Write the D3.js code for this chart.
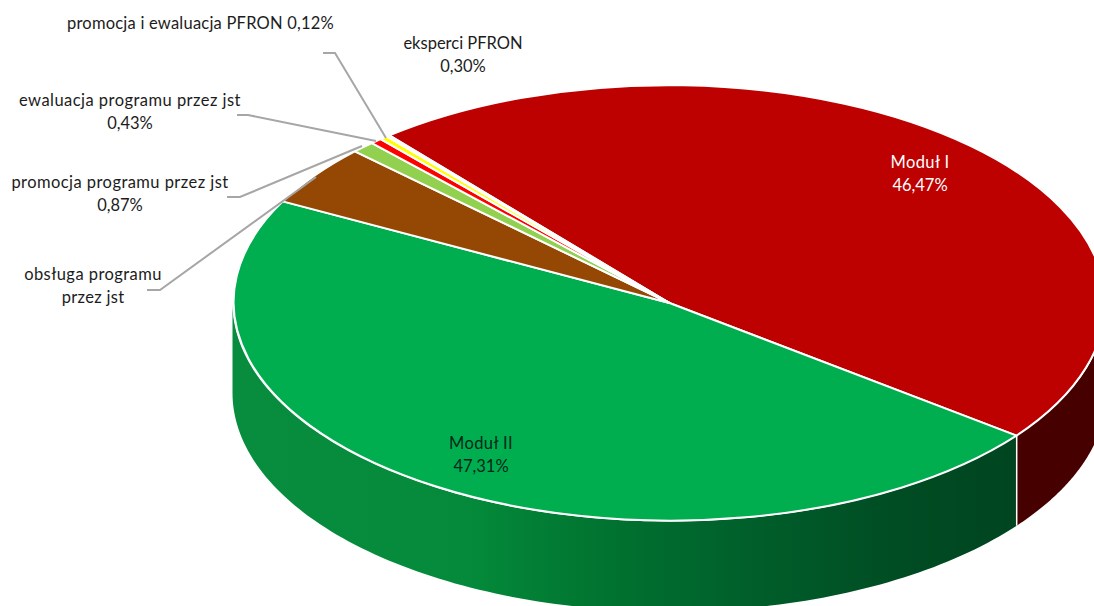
<!DOCTYPE html>
<html><head><meta charset="utf-8">
<script src="https://cdn.jsdelivr.net/npm/d3@7/dist/d3.min.js"></script>
<style>html,body{margin:0;background:#fff}svg{display:block}text{font-family:Lato,"Open Sans",sans-serif;font-size:16.5px;fill:#1c1c1c}</style>
</head><body><svg id="c" width="1094" height="606"></svg>
<script>
const categories = ["Moduł I","Moduł II","obsługa programu przez jst","promocja programu przez jst","ewaluacja programu przez jst","eksperci PFRON","promocja i ewaluacja PFRON"];
const values = [46.47,47.31,4.50,0.87,0.43,0.30,0.12];
const colors = ["#bd0000","#00ae4f","#954804","#92d050","#ff0000","#ffff00","#fbe4e4"];
const labelLines = [
 ["Moduł I","46,47%"],["Moduł II","47,31%"],["obsługa programu","przez jst"],
 ["promocja programu przez jst","0,87%"],["ewaluacja programu przez jst","0,43%"],
 ["eksperci PFRON","0,30%"],["promocja i ewaluacja PFRON 0,12%"]];

// layout
const W=1094,H=606,cx=669.5,cy=303,rx=437,ry=218.5,depth=90,start=-39.9*Math.PI/180;
const labelPos=[[920,168],[481,449],[93,280],[120,188],[130,106],[463,49],[200.5,29]];
const labelSpacing=[[0.4,0],[0.4,0],[0.44,0.3],[0.44,0],[0.46,0],[0,0],[0.22]];
const lineGap=23;
const leaders=[null,null,
 [[147,290],[160,290],[316,177]],
 [[227,197],[240,197],[362,146]],
 [[237,115],[248,115],[376,141]],
 null,
 [[323,53],[335,53],[386,138]]];

const svg=d3.select("#c");
const pie=d3.pie().sort(null).startAngle(start).endAngle(start+2*Math.PI).value(d=>d);
const arcs=pie(values);
const px=a=>cx+rx*Math.sin(a), py=a=>cy-ry*Math.cos(a);

const defs=svg.append("defs");
const g=defs.append("linearGradient").attr("id","greenSide").attr("gradientUnits","userSpaceOnUse")
 .attr("x1",cx-rx).attr("x2",px(arcs[0].endAngle)).attr("y1",0).attr("y2",0);
[[0,"#078d3d"],[0.3,"#048a3a"],[0.5,"#00702f"],[0.65,"#00602b"],[0.85,"#004c23"],[1,"#004520"]].forEach(s=>g.append("stop").attr("offset",s[0]).attr("stop-color",s[1]));

// side walls (front half of the ellipse only)
const lo=Math.PI/2, hi=3*Math.PI/2;
function wall(a0,a1){
  const A=Math.max(a0,lo),B=Math.min(a1,hi);
  if(B<=A) return null;
  const ts=d3.range(0,121).map(i=>A+(B-A)*i/120);
  const top=ts.map(t=>[px(t),py(t)]);
  const bot=ts.slice().reverse().map(t=>[px(t),py(t)+depth]);
  return d3.line()(top.concat(bot))+"Z";
}
const sideFill=["#470000","url(#greenSide)"];
arcs.slice(0,2).forEach((d,i)=>{
  const p=wall(d.startAngle,d.endAngle);
  if(p) svg.append("path").attr("d",p).attr("fill",sideFill[i]);
});
const split=arcs[0].endAngle;
svg.append("line").attr("x1",px(split)).attr("x2",px(split)).attr("y1",py(split)).attr("y2",py(split)+depth)
 .attr("stroke","#fff").attr("stroke-width",1.5);

// top face
const arc=d3.arc().innerRadius(0).outerRadius(1);
svg.append("g").attr("transform",`translate(${cx},${cy}) scale(${rx},${ry})`)
 .selectAll("path").data(arcs).join("path")
 .attr("d",arc).attr("fill",(d,i)=>colors[i])
 .attr("stroke","#fff").attr("stroke-width",2).attr("stroke-linejoin","round")
 .attr("vector-effect","non-scaling-stroke");

// leaders
const ln=d3.line();
svg.append("g").selectAll("path").data(leaders.filter(Boolean)).join("path")
 .attr("d",ln).attr("fill","none").attr("stroke","#a6a6a6").attr("stroke-width",2);

// labels
labelLines.forEach((lines,i)=>{
  const t=svg.append("text").attr("text-anchor","middle")
    .attr("transform",`translate(${labelPos[i][0]},${labelPos[i][1]})`);
  if(i===0) t.style("fill","#fff");
  if(i===1) t.style("fill","#06281a");
  lines.forEach((s,j)=>t.append("tspan").attr("x",0).attr("y",j*lineGap)
     .style("letter-spacing",labelSpacing[i][j]+"px").text(s));
});
</script></body></html>
